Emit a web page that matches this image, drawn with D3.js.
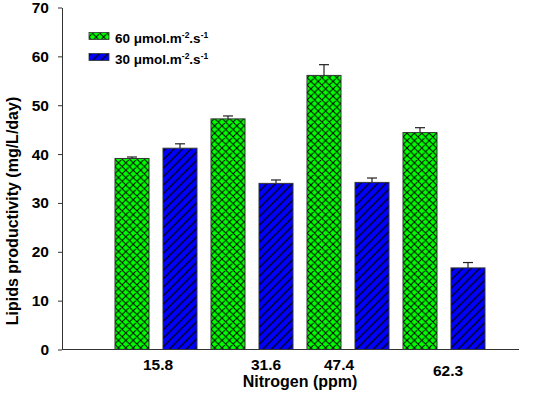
<!DOCTYPE html>
<html>
<head>
<meta charset="utf-8">
<script src="https://cdn.jsdelivr.net/npm/d3@7"></script>
<style>
  body { margin: 0; background: white; }
  text { font-family: "Liberation Sans", Arial, sans-serif; font-weight: bold; }
</style>
</head>
<body>
<div id="chart"></div>
<script>
// data
const nitrogen = ["15.8", "31.6", "47.4", "62.3"]
const series = ["60", "30"]
const high_light = [39.1, 47.2, 56.1, 44.4]      // 60 umol.m-2.s-1
const high_light_err = [0.3, 0.6, 2.2, 1.0]
const low_light = [41.2, 34.0, 34.2, 16.7]       // 30 umol.m-2.s-1
const low_light_err = [0.9, 0.7, 0.9, 1.1]
const y_ticks = [0, 10, 20, 30, 40, 50, 60, 70]

const W = 540, H = 394
let svg = d3.select("#chart").append("svg")
    .attr("width", W).attr("height", H)
    .style("background", "white")

// patterns
let defs = svg.append("defs")
let pg = defs.append("pattern").attr("id", "cross")
    .attr("patternUnits", "userSpaceOnUse")
    .attr("width", 7.4).attr("height", 7.4)
pg.append("rect").attr("width", 7.4).attr("height", 7.4).attr("fill", "#00ff00")
pg.append("path").attr("d", "M-1,-1 L8.4,8.4 M-1,8.4 L8.4,-1 M-4.7,2.7 L2.7,-4.7 M4.7,12.1 L12.1,4.7 M-4.7,4.7 L2.7,12.1 M4.7,-2.7 L12.1,4.7")
    .attr("stroke", "#000").attr("stroke-width", 1)

let pb = defs.append("pattern").attr("id", "hatch")
    .attr("patternUnits", "userSpaceOnUse")
    .attr("width", 8.5).attr("height", 8.5)
pb.append("rect").attr("width", 8.5).attr("height", 8.5).attr("fill", "#0000ff")
pb.append("path").attr("d", "M-1,9.5 L9.5,-1 M-3,3 L3,-3 M5.5,11.5 L11.5,5.5")
    .attr("stroke", "#000").attr("stroke-width", 1.25)

// scales
let y = d3.scaleLinear().domain([0, 70]).range([349.5, 7.5])
let x0 = d3.scaleBand().domain(nitrogen).range([115, 485])
    .paddingInner(14 / 96).paddingOuter(0)
let x1 = d3.scaleBand().domain(series).range([0, x0.bandwidth()])
    .paddingInner(14 / 48).paddingOuter(0)

const fills = { "60": "url(#cross)", "30": "url(#hatch)" }
let rows = []
nitrogen.forEach((n, i) => {
    rows.push({ n: n, s: "60", v: high_light[i], e: high_light_err[i] })
    rows.push({ n: n, s: "30", v: low_light[i], e: low_light_err[i] })
})

// error bars (up only, drawn behind bars)
let eb = svg.append("g").attr("class", "err")
rows.forEach(d => {
    let cx = x0(d.n) + x1(d.s) + x1.bandwidth() / 2
    eb.append("line").attr("x1", cx).attr("x2", cx)
        .attr("y1", y(d.v)).attr("y2", y(d.v + d.e))
        .attr("stroke", "#222").attr("stroke-width", 1.2)
    eb.append("line").attr("x1", cx - 5).attr("x2", cx + 5)
        .attr("y1", y(d.v + d.e)).attr("y2", y(d.v + d.e))
        .attr("stroke", "#222").attr("stroke-width", 1.2)
})

svg.append("g").attr("class", "bars")
    .selectAll("rect").data(rows).enter()
    .append("rect")
    .attr("x", d => x0(d.n) + x1(d.s))
    .attr("y", d => y(d.v))
    .attr("width", x1.bandwidth())
    .attr("height", d => y(0) - y(d.v))
    .attr("fill", d => fills[d.s])
    .attr("stroke", "#333").attr("stroke-width", 1)

// y axis
let yAxis = d3.axisLeft(y).tickValues(y_ticks).tickSize(4).tickSizeOuter(0).tickPadding(9)
let gy = svg.append("g").attr("transform", "translate(62,0)").call(yAxis)
gy.selectAll("text").style("font-size", "15.5px").attr("fill", "#000")
gy.selectAll("line").attr("stroke", "#333")
gy.select(".domain").attr("stroke", "#333")

// x axis line
svg.append("line").attr("x1", 62).attr("x2", 519)
    .attr("y1", y(0)).attr("y2", y(0))
    .attr("stroke", "#333").attr("stroke-width", 1)

// x labels (slight nudges as in the original)
const label_dx = [2, 14, -9, 4]
const label_dy = [0, 0, 0, 6]
svg.append("g").selectAll("text").data(nitrogen).enter()
    .append("text")
    .attr("x", (d, i) => x0(d) + x0.bandwidth() / 2 + label_dx[i])
    .attr("y", (d, i) => 369.5 + label_dy[i])
    .attr("text-anchor", "middle")
    .style("font-size", "15.5px")
    .text(d => d)

svg.append("text").attr("x", 300).attr("y", 387)
    .attr("text-anchor", "middle").style("font-size", "16px")
    .text("Nitrogen (ppm)")

svg.append("text")
    .attr("transform", "translate(18,211) rotate(-90)")
    .attr("text-anchor", "middle").style("font-size", "16px")
    .text("Lipids productivity (mg/L/day)")

// legend
const legend_labels = ["60", "30"]
let lg = svg.append("g")
legend_labels.forEach((s, i) => {
    let ly = 32.5 + i * 21
    lg.append("rect").attr("x", 89).attr("y", ly).attr("width", 20).attr("height", 7)
        .attr("fill", fills[s]).attr("stroke", "#333").attr("stroke-width", 0.8)
    let t = lg.append("text").attr("x", 115).attr("y", ly + 10.5).style("font-size", "13.5px")
    t.append("tspan").text(s + " \u03bcmol.m")
    t.append("tspan").attr("dy", -5).style("font-size", "8.5px").text("-2")
    t.append("tspan").attr("dy", 5).text(".s")
    t.append("tspan").attr("dy", -5).style("font-size", "8.5px").text("-1")
})
</script>
</body>
</html>
